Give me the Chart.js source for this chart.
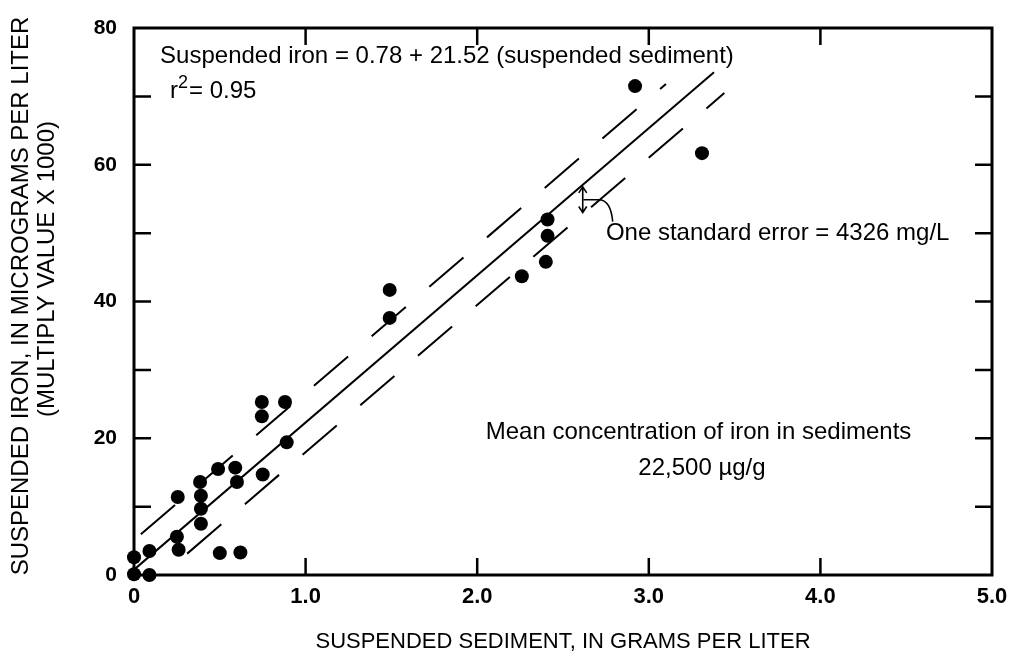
<!DOCTYPE html>
<html>
<head>
<meta charset="utf-8">
<script src="https://cdn.jsdelivr.net/npm/chart.js@4"></script>
<style>
  body { margin: 0; background: #fff; }
</style>
</head>
<body>
<canvas id="iron-chart" width="1011" height="661"></canvas>
<script>
// samples: suspended sediment (g/L) vs suspended iron (ug/L x 1000)
const sediment = [0, 0, 0.09, 0.09, 0.255, 0.25, 0.26, 0.385, 0.39, 0.39, 0.39,
                  0.49, 0.5, 0.59, 0.6, 0.62, 0.745, 0.745, 0.75, 0.88, 0.89,
                  1.49, 1.49, 2.26, 2.4, 2.41, 2.41, 2.92, 3.31];
const iron = [2.6, 0.1, 0, 3.5, 11.4, 5.6, 3.7, 13.6, 11.6, 9.7, 7.5,
              15.5, 3.2, 15.7, 13.6, 3.3, 25.3, 23.2, 14.7, 25.3, 19.4,
              41.7, 37.6, 43.7, 45.8, 52, 49.6, 71.5, 61.7];

// regression: iron = 0.78 + 21.52 * sediment, one standard error = 4.326
const intercept = 0.78;
const slope = 21.52;
const stdError = 4.326;
const fitRange = [0, 3.38];
const upperRange = [0.04, 3.10];
const lowerRange = [0.31, 3.44];

const xTicks = [0, 1, 2, 3, 4, 5];
const xTickLabels = ['0', '1.0', '2.0', '3.0', '4.0', '5.0'];
const yTicks = [0, 20, 40, 60, 80];
const yTickLabels = ['0', '20', '40', '60', '80'];
const xInnerTicks = [1, 2, 3, 4];
const yInnerTicks = [10, 20, 30, 40, 50, 60, 70];
const yTitle = ['SUSPENDED IRON, IN MICROGRAMS PER LITER', '(MULTIPLY VALUE X 1000)'];

const points = sediment.map((s, i) => ({x: s, y: iron[i]}));
const lineFrom = (range, shift) => range.map(s => ({x: s, y: intercept + shift + slope * s}));

const FONT = "'Liberation Sans', Arial, sans-serif";

// box frame, inward ticks and the text notes
const frame = {
  id: 'frame',
  afterDatasetsDraw(chart) {
    const {ctx, chartArea: a, scales: {x, y}} = chart;
    ctx.save();
    ctx.strokeStyle = '#000';
    ctx.lineWidth = 3;
    ctx.strokeRect(a.left, a.top, a.right - a.left, a.bottom - a.top);

    ctx.lineWidth = 2.5;
    ctx.beginPath();
    const len = 17;
    xInnerTicks.forEach(v => {
      const px = x.getPixelForValue(v);
      ctx.moveTo(px, a.bottom); ctx.lineTo(px, a.bottom - len);
      ctx.moveTo(px, a.top); ctx.lineTo(px, a.top + len);
    });
    yInnerTicks.forEach(v => {
      const py = y.getPixelForValue(v);
      ctx.moveTo(a.left, py); ctx.lineTo(a.left + len, py);
      ctx.moveTo(a.right, py); ctx.lineTo(a.right - len, py);
    });
    ctx.stroke();

    // standard error marker between fit line and lower band
    const ax = x.getPixelForValue(2.615);
    const y1 = y.getPixelForValue(intercept + slope * 2.615);
    const y2 = y.getPixelForValue(intercept - stdError + slope * 2.615);
    ctx.lineWidth = 1.6;
    ctx.beginPath();
    ctx.moveTo(ax, y1 + 2); ctx.lineTo(ax, y2 - 2);
    ctx.moveTo(ax - 4, y1 + 8); ctx.lineTo(ax, y1 + 2); ctx.lineTo(ax + 4, y1 + 8);
    ctx.moveTo(ax - 4, y2 - 8); ctx.lineTo(ax, y2 - 2); ctx.lineTo(ax + 4, y2 - 8);
    const my = (y1 + y2) / 2;
    ctx.moveTo(ax + 1, my);
    ctx.lineTo(ax + 16, my);
    ctx.quadraticCurveTo(ax + 28, my, ax + 30, my + 22);
    ctx.stroke();

    ctx.fillStyle = '#000';
    ctx.font = '24px ' + FONT;
    ctx.textBaseline = 'middle';
    ctx.textAlign = 'left';
    ctx.fillText('Suspended iron = 0.78 + 21.52 (suspended sediment)', x.getPixelForValue(0.152), y.getPixelForValue(75.9));
    const rx = x.getPixelForValue(0.21), ry = y.getPixelForValue(70.8);
    ctx.fillText('r', rx, ry);
    ctx.font = '18px ' + FONT;
    ctx.fillText('2', rx + 8, ry - 8);
    ctx.font = '24px ' + FONT;
    ctx.fillText('= 0.95', rx + 19, ry);
    ctx.fillText('One standard error = 4326 mg/L', x.getPixelForValue(2.75), y.getPixelForValue(50));
    ctx.textAlign = 'center';
    ctx.fillText('Mean concentration of iron in sediments', x.getPixelForValue(3.29), y.getPixelForValue(20.8));
    ctx.fillText('22,500 \u00b5g/g', x.getPixelForValue(3.31), y.getPixelForValue(15.6));

    // two-line rotated y axis title
    ctx.font = '24px ' + FONT;
    ctx.translate(21, 296);
    ctx.rotate(-Math.PI / 2);
    ctx.fillText(yTitle[0], 0, 0);
    ctx.fillText(yTitle[1], 27, 26);
    ctx.restore();
  }
};

const lineStyle = {showLine: true, pointRadius: 0, borderColor: '#000', borderWidth: 2, fill: false};

new Chart('iron-chart', {
  type: 'scatter',
  data: {
    datasets: [
      {data: points, pointRadius: 7, pointBackgroundColor: '#000', pointBorderWidth: 0, clip: false},
      {...lineStyle, data: lineFrom(fitRange, 0)},
      {...lineStyle, data: lineFrom(upperRange, stdError), borderDash: [45, 31]},
      {...lineStyle, data: lineFrom(lowerRange, -stdError), borderDash: [45, 31]}
    ]
  },
  options: {
    responsive: false,
    animation: false,
    layout: {padding: {top: 28, right: 19, left: 0, bottom: 0}},
    plugins: {legend: {display: false}, tooltip: {enabled: false}},
    scales: {
      x: {
        type: 'linear', min: 0, max: 5,
        afterBuildTicks: s => { s.ticks = xTicks.map(v => ({value: v})); },
        afterFit: s => { s.height = 86; s.paddingLeft = 0; s.paddingRight = 0; },
        ticks: {callback: v => xTickLabels[xTicks.indexOf(v)], color: '#000', padding: 9,
                maxRotation: 0, autoSkip: false, font: {family: FONT, size: 22, weight: 'bold'}},
        grid: {display: false, drawTicks: false},
        border: {display: false},
        title: {display: true, text: 'SUSPENDED SEDIMENT, IN GRAMS PER LITER', color: '#000',
                font: {family: FONT, size: 22}, padding: {bottom: 6}}
      },
      y: {
        type: 'linear', min: 0, max: 80,
        afterBuildTicks: s => { s.ticks = yTicks.map(v => ({value: v})); },
        afterFit: s => { s.width = 134; s.paddingTop = 0; s.paddingBottom = 0; },
        ticks: {callback: v => yTickLabels[yTicks.indexOf(v)], color: '#000', padding: 17,
                font: {family: FONT, size: 21, weight: 'bold'}},
        grid: {display: false, drawTicks: false},
        border: {display: false}
      }
    }
  },
  plugins: [frame]
});
</script>
</body>
</html>
